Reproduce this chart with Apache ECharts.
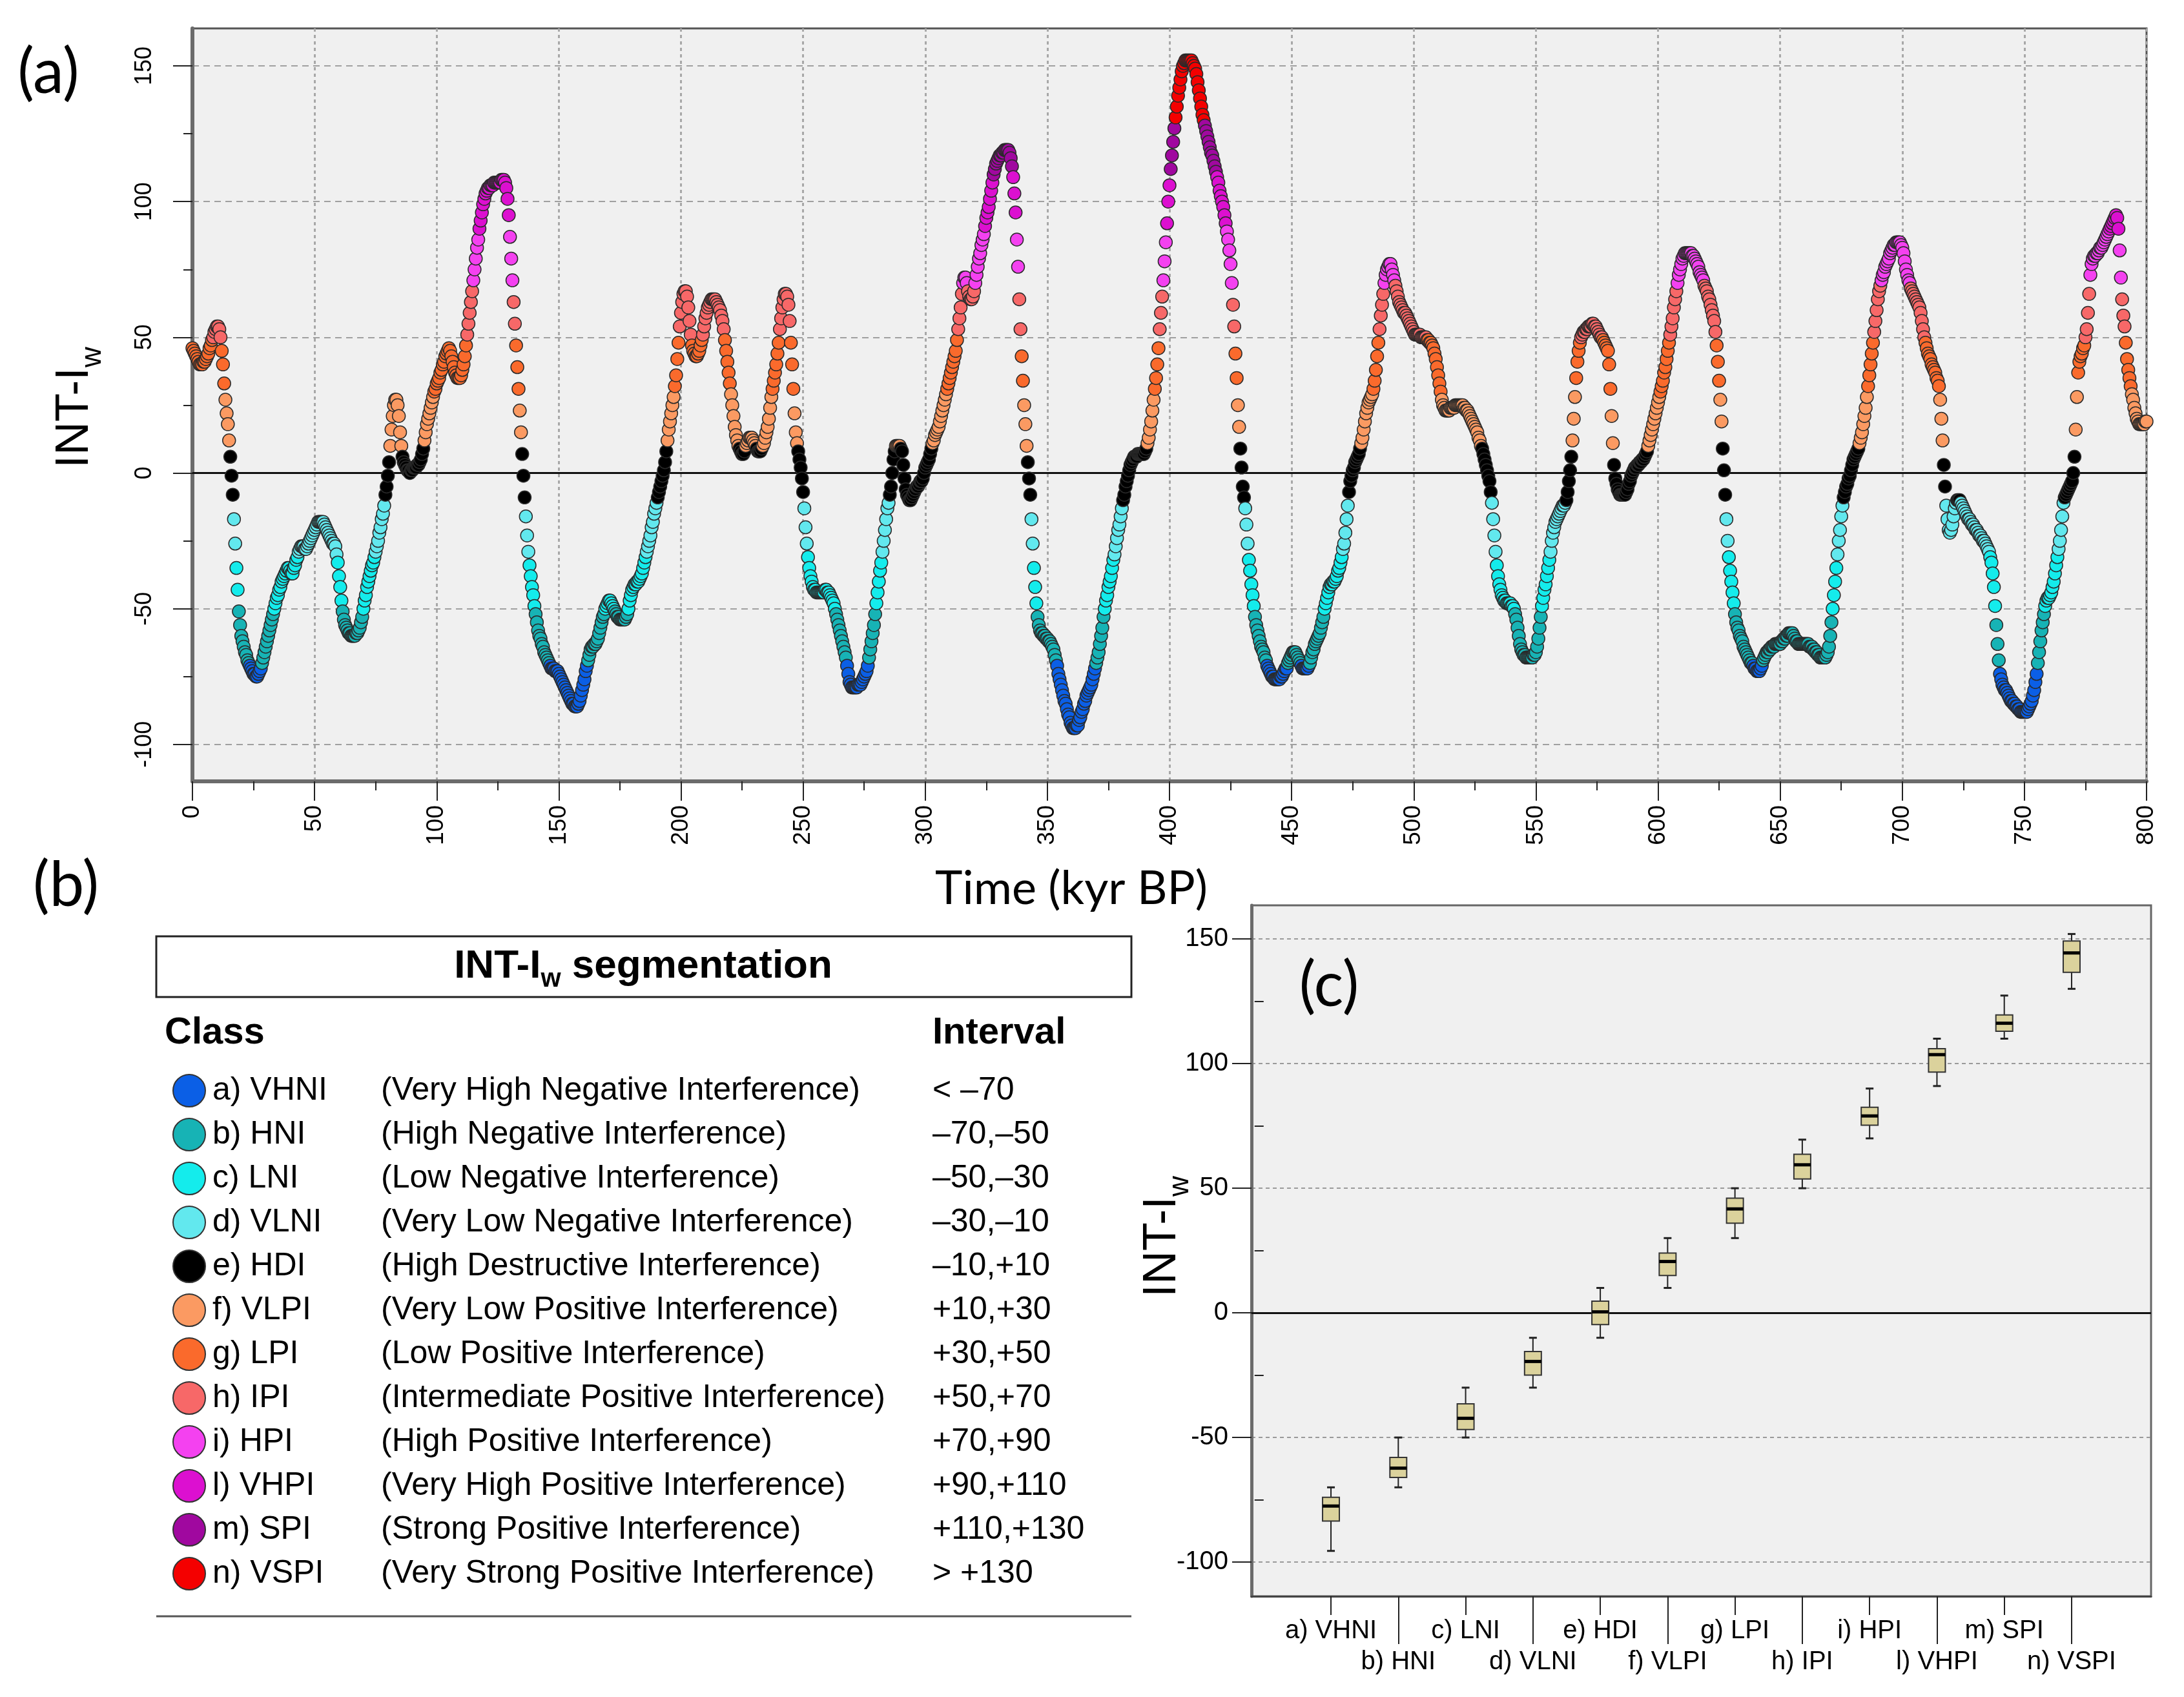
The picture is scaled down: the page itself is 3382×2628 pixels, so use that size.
<!DOCTYPE html>
<html><head><meta charset="utf-8">
<script src="https://cdn.jsdelivr.net/npm/echarts@6/dist/echarts.min.js"></script>
<style>html,body{margin:0;padding:0;background:#fff}#c{width:3382px;height:2628px}</style>
</head><body><div id="c"></div>
<script>
// ---------- DATA ----------
// INT-Iw series, 0.5 kyr step, one array per 100 kyr block
const timeStep = 0.5;
const blockStarts = [0, 100, 200, 300, 400, 500, 600, 700];
const intIw000 = [46,45,44,43,42,41,40,40,40,41,41,42,43,44,46,47,49,50,52,53,
54,54,53,50,45,40,33,27,22,18,12,6,-1,-8,-17,-26,-35,-43,-51,-56,
-60,-62,-64,-66,-67,-69,-70,-71,-72,-73,-74,-74,-75,-75,-74,-73,-72,-70,-68,-66,
-64,-62,-60,-58,-56,-54,-52,-50,-48,-46,-45,-43,-42,-40,-39,-38,-37,-36,-35,-35,
-36,-37,-37,-35,-34,-32,-31,-29,-28,-27,-27,-27,-28,-28,-27,-26,-25,-24,-23,-22,
-21,-20,-19,-18,-18,-18,-18,-18,-19,-20,-21,-22,-23,-24,-25,-26,-26,-27,-30,-33,
-38,-42,-47,-51,-54,-56,-57,-58,-59,-59,-60,-60,-60,-60,-59,-59,-58,-57,-55,-53,
-50,-47,-45,-42,-40,-38,-36,-34,-33,-31,-29,-27,-25,-22,-20,-17,-15,-12,-8,-5,
-1,4,10,16,21,25,27,27,25,21,15,10,6,4,3,2,1,1,0,1,
1,2,2,2,3,3,4,5,7,9,12,15,18,20,22,24,26,28,30,31];
const intIw100 = [33,34,35,37,38,40,41,43,44,45,46,45,43,41,39,37,36,35,35,35,
36,38,40,43,47,51,55,59,63,67,71,75,79,83,86,90,93,96,99,101,
103,104,105,105,106,106,106,107,107,107,107,107,107,108,108,108,107,105,101,95,
87,79,71,63,55,47,39,31,23,15,7,-1,-9,-16,-23,-29,-34,-38,-42,-45,
-49,-52,-55,-58,-60,-61,-63,-64,-66,-67,-68,-69,-70,-71,-72,-72,-72,-73,-73,-73,
-74,-75,-76,-77,-78,-79,-80,-81,-82,-83,-84,-85,-85,-86,-86,-86,-85,-84,-82,-80,
-78,-76,-73,-71,-69,-67,-65,-64,-64,-63,-63,-62,-61,-59,-57,-55,-53,-52,-50,-49,
-48,-47,-47,-48,-49,-50,-51,-52,-53,-53,-54,-54,-54,-54,-54,-53,-52,-50,-47,-45,
-43,-42,-41,-41,-40,-40,-39,-38,-37,-35,-33,-31,-29,-27,-25,-23,-20,-18,-15,-13,
-11,-9,-7,-5,-3,-1,1,4,8,12,16,19,22,25,28,32,36,42,48,54];
const intIw200 = [59,63,66,67,67,65,61,56,51,47,45,44,43,43,44,45,47,49,51,54,
57,59,61,62,63,64,64,64,64,63,62,61,60,58,56,53,49,45,41,37,
33,29,25,21,17,14,12,10,9,8,7,7,8,10,11,12,13,13,13,12,
11,10,9,8,8,8,9,10,11,13,15,17,20,24,28,31,34,37,40,44,
48,53,57,61,64,66,66,65,62,56,48,40,31,22,15,11,8,5,2,-2,
-7,-13,-20,-26,-31,-35,-38,-40,-42,-43,-43,-44,-44,-44,-44,-44,-44,-44,-43,-43,
-44,-44,-45,-46,-47,-48,-50,-52,-54,-56,-58,-60,-62,-64,-66,-68,-71,-74,-77,-78,
-79,-79,-79,-79,-79,-78,-78,-78,-77,-76,-75,-74,-73,-71,-68,-65,-62,-59,-56,-52,
-48,-44,-40,-36,-33,-29,-25,-21,-17,-13,-11,-8,-5,0,5,8,10,10,10,10,
9,8,3,-2,-6,-8,-9,-10,-10,-9,-8,-7,-6,-5,-5,-4,-3,-3,-2,0];
const intIw300 = [2,3,4,5,7,9,11,12,14,15,16,17,19,21,23,25,27,29,31,33,
35,37,39,41,43,45,49,53,57,61,66,70,72,72,70,67,65,64,64,65,
67,70,73,76,79,81,84,86,88,91,94,96,98,101,104,107,110,112,114,115,
116,117,117,118,118,119,119,119,119,118,116,113,109,103,96,86,76,64,53,43,
34,25,18,10,4,-2,-8,-17,-26,-35,-42,-48,-53,-56,-58,-59,-59,-60,-60,-61,
-61,-62,-62,-63,-64,-65,-67,-69,-71,-74,-76,-78,-80,-82,-84,-85,-87,-89,-90,-92,
-93,-94,-94,-94,-93,-93,-91,-90,-88,-87,-85,-84,-82,-81,-80,-79,-78,-76,-74,-72,
-70,-68,-66,-63,-60,-57,-53,-50,-47,-45,-42,-40,-38,-35,-32,-30,-27,-24,-21,-19,
-16,-13,-10,-8,-5,-3,-1,1,3,4,5,6,6,6,7,7,7,7,7,7,
8,9,11,13,16,19,23,27,31,35,40,46,53,59,65,71,78,85,92,100];
const intIw400 = [106,112,117,122,127,131,135,139,142,145,148,150,151,152,152,152,152,152,152,151,
150,149,147,144,141,138,135,132,130,128,126,124,122,120,118,117,115,113,111,109,
107,104,102,100,98,95,92,89,86,82,77,70,62,54,44,35,25,17,9,2,
-5,-9,-13,-19,-26,-32,-36,-41,-45,-49,-53,-56,-58,-60,-62,-64,-65,-66,-68,-69,
-71,-72,-73,-74,-75,-75,-76,-76,-76,-76,-76,-75,-75,-74,-73,-72,-72,-70,-69,-68,
-67,-66,-66,-66,-67,-68,-69,-70,-71,-72,-72,-72,-72,-72,-71,-70,-68,-66,-65,-63,
-62,-61,-60,-59,-57,-55,-53,-50,-48,-46,-44,-42,-41,-41,-40,-40,-39,-38,-36,-35,
-33,-31,-28,-26,-22,-17,-12,-7,-3,-1,1,2,4,5,6,7,9,11,13,16,
19,22,24,26,27,28,29,31,34,38,43,48,53,58,62,66,70,73,75,76,
77,77,75,73,71,69,67,65,63,62,61,60,59,59,58,57,56,55,54,53];
const intIw500 = [52,51,51,51,51,51,50,50,50,50,50,49,49,48,48,47,46,44,42,39,
36,33,30,27,25,24,23,23,23,23,24,24,24,24,25,25,25,25,25,25,
25,24,24,23,23,22,21,20,19,18,17,16,15,13,12,10,9,7,5,3,
1,-1,-3,-7,-11,-17,-23,-29,-34,-38,-41,-43,-45,-46,-47,-47,-48,-48,-48,-48,
-49,-49,-50,-52,-54,-57,-60,-63,-65,-66,-67,-67,-68,-68,-68,-68,-68,-68,-67,-67,
-66,-64,-61,-57,-53,-49,-46,-43,-41,-38,-35,-32,-29,-25,-22,-20,-18,-17,-16,-15,
-14,-13,-12,-12,-11,-10,-7,-3,1,6,12,20,28,35,41,45,48,50,51,52,
52,53,53,54,54,54,55,55,54,54,53,52,51,50,50,49,48,47,46,45,
40,31,21,11,3,-2,-4,-6,-7,-8,-8,-8,-8,-8,-7,-6,-4,-3,-1,0,
1,2,2,3,3,4,4,5,5,6,7,8,10,12,14,16,18,20,22,24];
const intIw600 = [26,28,30,32,34,37,39,42,45,48,51,54,57,61,64,67,70,73,75,77,
79,80,81,81,81,81,81,81,80,80,79,78,77,76,74,73,72,71,69,68,
67,65,64,62,60,58,56,52,47,41,34,27,19,9,1,-8,-17,-25,-31,-36,
-40,-44,-48,-52,-55,-57,-58,-60,-61,-62,-64,-65,-66,-67,-68,-69,-70,-70,-71,-72,
-72,-73,-73,-73,-72,-71,-69,-68,-67,-66,-66,-65,-65,-64,-64,-64,-63,-63,-63,-63,
-63,-62,-62,-61,-61,-60,-60,-59,-59,-59,-59,-60,-61,-62,-62,-63,-63,-63,-63,-63,
-63,-63,-63,-63,-64,-64,-64,-65,-65,-66,-66,-67,-67,-68,-68,-68,-68,-68,-67,-66,
-64,-60,-55,-50,-45,-40,-35,-30,-25,-21,-16,-12,-9,-7,-5,-4,-2,-1,1,3,
5,6,7,8,9,11,13,15,18,21,24,28,32,36,40,44,48,52,56,60,
64,67,69,71,73,74,76,77,78,79,81,82,83,84,84,85,85,85,85,84];
const intIw700 = [83,81,78,75,73,71,70,68,67,66,65,64,63,62,61,59,56,53,50,48,
46,44,43,42,40,39,38,37,35,34,32,27,20,12,3,-5,-12,-17,-21,-22,
-21,-19,-16,-13,-11,-10,-10,-10,-11,-12,-13,-14,-15,-16,-17,-17,-18,-19,-19,-20,
-21,-21,-22,-23,-23,-24,-25,-25,-26,-27,-28,-29,-31,-33,-37,-42,-49,-56,-63,-69,
-74,-76,-78,-79,-80,-80,-81,-82,-83,-84,-84,-85,-85,-86,-86,-87,-87,-88,-88,-88,
-88,-88,-88,-87,-86,-85,-84,-82,-80,-77,-74,-70,-66,-62,-58,-55,-52,-49,-47,-46,
-46,-45,-44,-42,-40,-37,-34,-31,-28,-25,-21,-16,-11,-9,-8,-7,-6,-5,-4,-3,
0,6,16,28,37,41,43,44,46,47,50,53,59,66,73,77,79,80,80,81,
81,82,83,83,84,85,86,87,88,89,90,91,92,93,94,95,94,90,82,72,
64,58,54,48,42,38,35,32,29,27,24,22,20,19,18,18,18,18,18,19,
19];
const intIwBlocks = [intIw000, intIw100, intIw200, intIw300, intIw400, intIw500, intIw600, intIw700];

// Segmentation classes
const classCodes = ['a) VHNI','b) HNI','c) LNI','d) VLNI','e) HDI','f) VLPI','g) LPI','h) IPI','i) HPI','l) VHPI','m) SPI','n) VSPI'];
const classNames = ['(Very High Negative Interference)','(High Negative Interference)','(Low Negative Interference)',
  '(Very Low Negative Interference)','(High Destructive Interference)','(Very Low Positive Interference)',
  '(Low Positive Interference)','(Intermediate Positive Interference)','(High Positive Interference)',
  '(Very High Positive Interference)','(Strong Positive Interference)','(Very Strong Positive Interference)'];
const classIntervals = ['< \u201370','\u201370,\u201350','\u201350,\u201330','\u201330,\u201310','\u201310,+10','+10,+30',
  '+30,+50','+50,+70','+70,+90','+90,+110','+110,+130','> +130'];
const classBounds = [-70,-50,-30,-10,10,30,50,70,90,110,130];

// Box plot statistics per class (panel c)
const boxMin = [-95.5,-70,-50,-30,-10,10,30,50,70,91,110,130];
const boxQ1  = [-83.5,-66,-46.8,-25,-4.7,15,36,53.7,75.3,96.6,113,136.6];
const boxMed = [-77.5,-62.3,-42.3,-19.5,0.4,20.6,41.7,59.4,79,103.6,116.2,144.4];
const boxQ3  = [-74,-58,-36.5,-15.5,4.7,24,46,63.6,82.5,106,119.5,149.2];
const boxMax = [-70,-50,-30,-10,10,30,50,69.5,90,110,127.3,152];

const yMajorTicks = [-100,-50,0,50,100,150];
const yMinorTicks = [-75,-25,25,75,125];

// ---------- STYLE ----------
const classColors = ['#0b5fe6','#17b3b5','#14ecec','#62e8ee','#000000','#fb9a62','#fa6a2c','#f76868','#f441f0','#dc10d0','#a0089f','#f40000'];
const F_SANS = '"Liberation Sans", Arial, sans-serif';
const F_CAL = 'Lato, "Open Sans", sans-serif';

// ---------- BUILD ----------
const scatterData = [];
intIwBlocks.forEach((arr, b) => arr.forEach((v, i) => scatterData.push([blockStarts[b] + i * timeStep, v])));

const pieces = classColors.map((c, i) => {
  const p = {color: c};
  if (i > 0) p.gte = classBounds[i - 1];
  if (i < classBounds.length) p.lt = classBounds[i];
  return p;
});

const boxData = boxMin.map((m, i) => [i + 1, m, boxQ1[i], boxMed[i], boxQ3[i], boxMax[i]]);
const oddPos = [1,3,5,7,9,11], evenPos = [2,4,6,8,10,12];

const tickStyle = {color: '#222', width: 2};
const graphics = [];
function txt(x, y, text, font, align, extra) {
  graphics.push(Object.assign({type: 'text', x, y, style: {text, font, fill: '#000', align: align || 'center', textAlign: align || 'center', verticalAlign: 'middle', textVerticalAlign: 'middle'}}, extra || {}));
}
txt(75, 113, '(a)', `96px ${F_CAL}`);
txt(102, 1372, '(b)', `96px ${F_CAL}`);
txt(2058, 1527, '(c)', `96px ${F_CAL}`);
txt(1659, 1377, 'Time (kyr BP)', `72px ${F_CAL}`);
function intName(x, y) {
  graphics.push({type: 'text', x, y, rotation: Math.PI / 2, style: {
    text: '{m|INT-I}{s|w}', align: 'center', verticalAlign: 'middle', textAlign: 'center', textVerticalAlign: 'middle',
    rich: {m: {fontSize: 72, fontFamily: F_SANS, lineHeight: 100, fill: '#000'},
           s: {fontSize: 44, fontFamily: F_SANS, lineHeight: 44, verticalAlign: 'bottom', fill: '#000'}}}});
}
intName(116, 631);
intName(1800, 1915);
// table (b)
graphics.push({type: 'rect', shape: {x: 242, y: 1450, width: 1510, height: 94}, style: {fill: 'none', stroke: '#222', lineWidth: 3}});
graphics.push({type: 'text', x: 996, y: 1497, style: {
  text: '{m|INT-I}{s|w}{m| segmentation}', align: 'center', verticalAlign: 'middle', textAlign: 'center', textVerticalAlign: 'middle',
  rich: {m: {fontSize: 62, fontWeight: 'bold', fontFamily: F_SANS, lineHeight: 80, fill: '#000'},
         s: {fontSize: 40, fontWeight: 'bold', fontFamily: F_SANS, lineHeight: 40, verticalAlign: 'bottom', fill: '#000'}}}});
txt(255, 1600, 'Class', `bold 58px ${F_SANS}`, 'left');
txt(1444, 1600, 'Interval', `bold 58px ${F_SANS}`, 'left');
classCodes.forEach((code, i) => {
  const y = 1689 + 68 * i;
  graphics.push({type: 'circle', shape: {cx: 293, cy: y, r: 25}, style: {fill: classColors[i], stroke: '#333', lineWidth: 2}});
  txt(329, y, code, `50px ${F_SANS}`, 'left');
  txt(590, y, classNames[i], `50px ${F_SANS}`, 'left');
  txt(1444, y, classIntervals[i], `50px ${F_SANS}`, 'left');
});
graphics.push({type: 'line', shape: {x1: 242, y1: 2503, x2: 1752, y2: 2503}, style: {stroke: '#555', lineWidth: 3}});

const chart = echarts.init(document.getElementById('c'), null, {renderer: 'canvas', width: 3382, height: 2628});
chart.setOption({
  animation: false,
  backgroundColor: '#ffffff',
  textStyle: {fontFamily: F_SANS},
  grid: [
    {left: 298, top: 44, width: 3026, height: 1166, show: true, backgroundColor: '#f0f0f0', borderColor: '#555', borderWidth: 3, containLabel: false, outerBoundsMode: 'none'},
    {left: 1938, top: 1402, width: 1393, height: 1070, show: true, backgroundColor: '#f0f0f0', borderColor: '#666', borderWidth: 3, containLabel: false, outerBoundsMode: 'none'}
  ],
  xAxis: [
    {gridIndex: 0, type: 'value', position: 'bottom', min: 0, max: 800, interval: 50,
     axisLine: {show: true, onZero: false, lineStyle: {color: '#6b6b6b', width: 6}},
     axisTick: {show: true, length: 30, lineStyle: tickStyle},
     minorTick: {show: true, splitNumber: 2, length: 14, lineStyle: tickStyle},
     axisLabel: {rotate: 90, fontSize: 37, color: '#000', margin: 37, fontFamily: F_SANS},
     splitLine: {show: true, lineStyle: {color: '#a8a8a8', width: 3, type: [5, 5]}}},
    {gridIndex: 1, type: 'value', position: 'bottom', offset: 0, min: -0.18, max: 13.18,
     axisLine: {show: true, onZero: false, lineStyle: {color: '#444', width: 3}},
     axisTick: {show: true, customValues: oddPos, length: 29, lineStyle: tickStyle},
     axisLabel: {customValues: oddPos, formatter: v => classCodes[v - 1], fontSize: 40, color: '#000', margin: 34, fontFamily: F_SANS},
     splitLine: {show: false}},
    {gridIndex: 1, type: 'value', position: 'bottom', offset: 0, min: -0.18, max: 13.18,
     axisLine: {show: false, onZero: false},
     axisTick: {show: true, customValues: evenPos, length: 74, lineStyle: tickStyle},
     axisLabel: {customValues: evenPos, formatter: v => classCodes[v - 1], fontSize: 40, color: '#000', margin: 82, fontFamily: F_SANS},
     splitLine: {show: false}}
  ],
  yAxis: [
    {gridIndex: 0, type: 'value', position: 'left', min: -113.6, max: 163.8,
     axisLine: {show: true, onZero: false, lineStyle: {color: '#6b6b6b', width: 6}},
     axisTick: {show: true, customValues: yMajorTicks, length: 30, lineStyle: tickStyle},
     axisLabel: {customValues: yMajorTicks, rotate: 90, fontSize: 36, color: '#000', margin: 56, fontFamily: F_SANS},
     splitLine: {show: true, lineStyle: {color: '#a0a0a0', width: 2, type: [10, 7]}}},
    {gridIndex: 0, type: 'value', position: 'left', offset: 0, min: -113.6, max: 163.8,
     axisLine: {show: false}, axisLabel: {show: false}, splitLine: {show: false},
     axisTick: {show: true, customValues: yMinorTicks, length: 14, lineStyle: tickStyle}},
    {gridIndex: 1, type: 'value', position: 'left', min: -113.7, max: 163.5,
     axisLine: {show: true, onZero: false, lineStyle: {color: '#6b6b6b', width: 5}},
     axisTick: {show: true, customValues: yMajorTicks, length: 30, lineStyle: tickStyle},
     axisLabel: {customValues: yMajorTicks, fontSize: 40, color: '#000', margin: 36, fontFamily: F_SANS},
     splitLine: {show: true, lineStyle: {color: '#9a9a9a', width: 2, type: [6, 5]}}},
    {gridIndex: 1, type: 'value', position: 'left', offset: 0, min: -113.7, max: 163.5,
     axisLine: {show: false}, axisLabel: {show: false}, splitLine: {show: false},
     axisTick: {show: true, customValues: yMinorTicks, length: 14, lineStyle: tickStyle}}
  ],
  visualMap: {type: 'piecewise', show: false, seriesIndex: 0, dimension: 1, pieces: pieces},
  series: [
    {type: 'scatter', xAxisIndex: 0, yAxisIndex: 0, data: scatterData, symbol: 'circle', symbolSize: 20, z: 3,
     progressive: 0, large: false,
     itemStyle: {borderColor: '#2a2a2a', borderWidth: 1.5, opacity: 1}},
    {type: 'scatter', xAxisIndex: 0, yAxisIndex: 0, data: [], z: 1,
     markLine: {silent: true, symbol: 'none', z: 1, label: {show: false}, lineStyle: {color: '#111', width: 3, type: 'solid'}, data: [{yAxis: 0}]}},
    {type: 'scatter', xAxisIndex: 1, yAxisIndex: 2, data: [], z: 1,
     markLine: {silent: true, symbol: 'none', z: 1, label: {show: false}, lineStyle: {color: '#111', width: 3, type: 'solid'}, data: [{yAxis: 0}]}},
    {type: 'custom', xAxisIndex: 1, yAxisIndex: 2, data: boxData, z: 3,
     renderItem: function (params, api) {
       const x = api.value(0);
       const p = [1, 2, 3, 4, 5].map(d => api.coord([x, api.value(d)]));
       const cx = p[0][0], hw = 13, cw = 6;
       return {type: 'group', children: [
         {type: 'line', shape: {x1: cx, y1: p[4][1], x2: cx, y2: p[3][1]}, style: {stroke: '#222', lineWidth: 2}},
         {type: 'line', shape: {x1: cx, y1: p[1][1], x2: cx, y2: p[0][1]}, style: {stroke: '#222', lineWidth: 2}},
         {type: 'line', shape: {x1: cx - cw, y1: p[4][1], x2: cx + cw, y2: p[4][1]}, style: {stroke: '#222', lineWidth: 3}},
         {type: 'line', shape: {x1: cx - cw, y1: p[0][1], x2: cx + cw, y2: p[0][1]}, style: {stroke: '#222', lineWidth: 3}},
         {type: 'rect', shape: {x: cx - hw, y: p[3][1], width: 2 * hw, height: p[1][1] - p[3][1]}, style: {fill: '#dbd29c', stroke: '#333', lineWidth: 2}},
         {type: 'line', shape: {x1: cx - hw, y1: p[2][1], x2: cx + hw, y2: p[2][1]}, style: {stroke: '#000', lineWidth: 5}}
       ]};
     }}
  ],
  graphic: {elements: graphics}
});
</script>
</body></html>
